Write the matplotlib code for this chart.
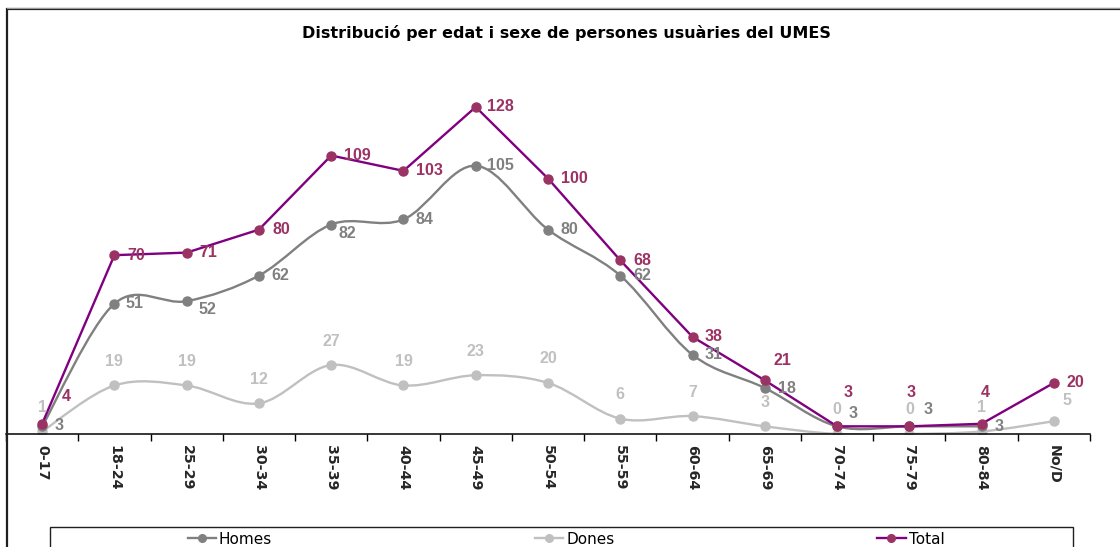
import numpy as np
import matplotlib
matplotlib.use("Agg")
import matplotlib.pyplot as plt
from matplotlib.path import Path
from matplotlib.patches import PathPatch, Rectangle
from matplotlib.lines import Line2D

# ---------------------------------------------------------------- data

categories = ["0-17", "18-24", "25-29", "30-34", "35-39", "40-44", "45-49",
              "50-54", "55-59", "60-64", "65-69", "70-74", "75-79", "80-84", "No/D"]
homes = [3, 51, 52, 62, 82, 84, 105, 80, 62, 31, 18, 3, 3, 3, np.nan]
dones = [1, 19, 19, 12, 27, 19, 23, 20, 6, 7, 3, 0, 0, 1, 5]
total = [4, 70, 71, 80, 109, 103, 128, 100, 68, 38, 21, 3, 3, 4, 20]

# label offsets (pixels, text centred on point + offset)
total_off = [(24, 27), (22, 0), (22, 0), (22, 0), (26, 0), (26, 0), (25, 0), (26, 0),
             (22, 0), (21, 0), (18, 20), (11, 34), (2, 34), (4, 31), (22, 0)]
homes_off = [(17, 1), (20, 0), (21, -8), (21, 0), (16, -9), (21, 0), (25, 0), (21, 0),
             (22, 0), (21, 0), (22, 0), (16, 13), (19, 17), (17, 0), None]
dones_off = [(0, 24)] * 14 + [(13, 21)]

# ---------------------------------------------------------------- style

W, H = 1120, 547
C_HOMES = "#808080"
C_DONES = "#C0C0C0"
C_TOTAL = "#800080"
C_TOTAL_MK = "#9B3264"


def smooth_path(x, y):
    """Excel-like smoothed line (Catmull-Rom as cubic Bezier)."""
    pts = np.column_stack([x, y]).astype(float)
    n = len(pts)
    verts, codes = [pts[0]], [Path.MOVETO]
    for i in range(n - 1):
        p0 = pts[max(i - 1, 0)]
        p1, p2 = pts[i], pts[i + 1]
        p3 = pts[min(i + 2, n - 1)]
        verts += [p1 + (p2 - p0) / 6, p2 - (p3 - p1) / 6, p2]
        codes += [Path.CURVE4] * 3
    return Path(verts, codes)


fig = plt.figure(figsize=(W / 100, H / 100), dpi=100)
ax = fig.add_axes([6 / W, (H - 434) / H, 1084 / W, 373 / H])
ax.set_xlim(-0.5, len(categories) - 0.5)
ax.set_ylim(0, 146)

x = np.arange(len(categories))
h = np.array(homes, dtype=float)
ok = ~np.isnan(h)

ax.add_patch(PathPatch(smooth_path(x, dones), fill=False, ec=C_DONES, lw=1.7, zorder=2))
ax.plot(x, dones, ls="none", marker="o", ms=6.5, color=C_DONES, zorder=2.1)
ax.add_patch(PathPatch(smooth_path(x[ok], h[ok]), fill=False, ec=C_HOMES, lw=1.7, zorder=3))
ax.plot(x[ok], h[ok], ls="none", marker="o", ms=6.5, color=C_HOMES, zorder=3.1)
ax.plot(x, total, lw=1.7, color=C_TOTAL, zorder=4)
ax.plot(x, total, ls="none", marker="o", ms=6.5, color=C_TOTAL_MK, zorder=4.1)

lab = dict(textcoords="offset pixels", ha="center", va="center", fontsize=11.5,
           fontweight="bold", family=["Liberation Sans", "DejaVu Sans"], zorder=5)
for xi, v, off in zip(x, dones, dones_off):
    ax.annotate(f"{v}", (xi, v), xytext=off, color=C_DONES, **lab)
for xi, v, off in zip(x, homes, homes_off):
    if off is not None and not np.isnan(v):
        ax.annotate(f"{int(v)}", (xi, v), xytext=off, color=C_HOMES, **lab)
for xi, v, off in zip(x, total, total_off):
    ax.annotate(f"{v}", (xi, v), xytext=off, color=C_TOTAL_MK, **lab)

# axes styling
for s in ("top", "right", "left"):
    ax.spines[s].set_visible(False)
ax.spines["bottom"].set_color("black")
ax.spines["bottom"].set_linewidth(1.1)
ax.set_yticks([])
ax.set_xticks(x)
ax.set_xticklabels(categories, rotation=270, fontsize=10.3, fontweight="bold",
                   color="#262626")
ax.set_xticks(np.arange(-0.5, len(categories), 1), minor=True)
ax.tick_params(axis="x", which="major", length=0, pad=8)
ax.tick_params(axis="x", which="minor", length=5, width=1, color="black")

# title
fig.text(566 / W, 1 - 33 / H, "Distribució per edat i sexe de persones usuàries del UMES",
         ha="center", va="center", fontsize=11.5, fontweight="bold",
         family="DejaVu Sans", color="black")

# outer chart frame (cut off at right and bottom)
fig.add_artist(Rectangle((7 / W, -0.2), 2, 1.2 - 9 / H, transform=fig.transFigure,
                         fill=False, ec="#1f1f1f", lw=1.6))
fig.add_artist(Line2D([7 / W, 1], [1 - 7.5 / H] * 2, transform=fig.transFigure,
                      color="#9a9a9a", lw=0.8))

# legend
handles = [Line2D([], [], color=C_HOMES, lw=1.7, marker="o", ms=5.5),
           Line2D([], [], color=C_DONES, lw=1.7, marker="o", ms=5.5),
           Line2D([], [], color=C_TOTAL, lw=1.7, marker="o", ms=5.5,
                  markerfacecolor=C_TOTAL_MK, markeredgecolor=C_TOTAL_MK)]
fig.legend(handles, ["Homes", "Dones", "Total"], loc="center",
           bbox_to_anchor=(566 / W, 1 - 539 / H), ncol=3, frameon=False,
           prop=dict(family="DejaVu Sans", size=11), handlelength=1.85,
           handletextpad=0.2, columnspacing=17.2, borderpad=0, borderaxespad=0)
fig.add_artist(Rectangle((50 / W, -0.2), 1023 / W, 0.2 + 20 / H,
                         transform=fig.transFigure, fill=False, ec="#1f1f1f", lw=1.0))

fig.savefig("out.png", dpi=100)
